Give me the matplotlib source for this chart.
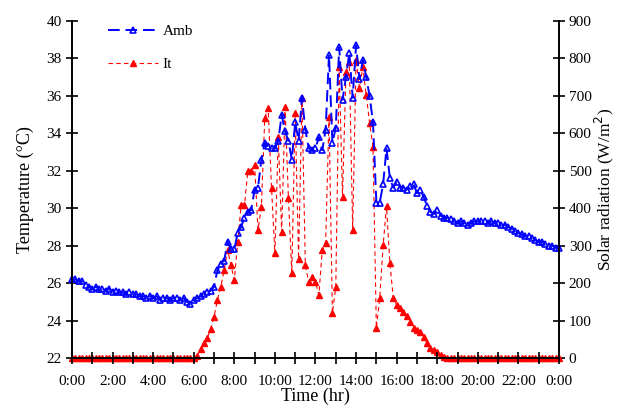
import matplotlib
matplotlib.use("Agg")
import matplotlib.pyplot as plt
import numpy as np

plt.rcParams["font.family"] = ["Liberation Serif", "DejaVu Serif"]

# 10-minute samples over one day (0:00 .. 24:00)
time_min = np.arange(0, 24 * 60 + 1, 10)

amb = [
    26.2, 26.2, 26.1, 26.1, 25.9, 25.8, 25.7, 25.8, 25.7, 25.7, 25.6, 25.7,
    25.5, 25.6, 25.5, 25.5, 25.4, 25.5, 25.4, 25.4, 25.3, 25.3, 25.2, 25.3,
    25.2, 25.3, 25.1, 25.2, 25.2, 25.1, 25.2, 25.2, 25.1, 25.2, 25.0, 24.9,
    25.1, 25.2, 25.3, 25.4, 25.5, 25.6, 25.8, 26.7, 27.0, 27.2, 28.2, 27.8,
    27.8, 28.7, 29.0, 29.5, 29.8, 29.9, 31.0, 31.1, 32.6, 33.5, 33.3, 33.2,
    33.2, 33.6, 35.0, 34.1, 33.6, 32.6, 34.6, 33.6, 35.9, 34.2, 33.2, 33.1,
    33.2, 33.8, 33.1, 34.2, 38.2, 33.5, 34.3, 38.6, 35.8, 37.0, 38.3, 35.9,
    38.7, 36.9, 37.9, 37.0, 36.0, 34.6, 30.3, 30.3, 31.3, 33.2, 31.6, 31.1,
    31.4, 31.1, 31.1, 31.0, 31.2, 31.3, 30.8, 31.0, 30.6, 30.1, 29.8, 29.7,
    29.9, 29.6, 29.5, 29.5, 29.4, 29.3, 29.2, 29.3, 29.2, 29.1, 29.2, 29.3,
    29.3, 29.3, 29.3, 29.2, 29.3, 29.2, 29.2, 29.1, 29.1, 29.0, 28.9, 28.8,
    28.7, 28.6, 28.5, 28.5, 28.4, 28.3, 28.2, 28.2, 28.1, 28.0, 28.0, 27.9,
    27.9,
]

solar = (
    [0] * 36
    + [0, 5, 25, 40, 53, 78, 110, 155, 190, 235, 288, 248,
       208, 310, 408, 408, 500, 500, 515, 342, 403, 641, 668, 454,
       280, 590, 337, 670, 427, 227, 654, 265, 694, 248, 203, 216,
       203, 168, 288, 308, 644, 120, 190, 777, 430, 764, 790, 342,
       796, 721, 777, 702, 628, 564, 80, 160, 302, 405, 254, 160,
       142, 134, 123, 112, 96, 80, 75, 69, 56, 40, 27, 21,
       15, 8, 3]
    + [0] * 34
)

hour_ticks = list(range(0, 25))
hour_labels = [f"{h % 24}:00" if h % 2 == 0 else "" for h in hour_ticks]

t = time_min / 60.0

fig = plt.figure(figsize=(6.18, 4.13), dpi=100)
ax = fig.add_axes([0.1165, 0.1332, 0.788, 0.8158])
ax2 = ax.twinx()
ax.set_zorder(ax2.get_zorder() + 1)
ax.patch.set_visible(False)

l1, = ax.plot(t, amb, color="blue", ls=(0, (6, 3)), lw=1.4, marker="^",
              ms=5, mfc="none", mec="blue", mew=1.2, label="Amb", clip_on=False)
l2, = ax2.plot(t, solar, color="red", ls=(0, (4, 3)), lw=0.8, marker="^",
               ms=5, mfc="red", mec="red", label="It", clip_on=False)

ax.set_xlim(0, 24)
ax.set_ylim(22, 40)
ax2.set_ylim(0, 900)
ax.set_yticks(np.arange(22, 41, 2))
ax2.set_yticks(np.arange(0, 901, 100))
ax.set_xticks(hour_ticks)
ax.set_xticklabels(hour_labels)

for a in (ax, ax2):
    a.spines["top"].set_visible(False)
    for s in a.spines.values():
        s.set_linewidth(1.2)
    a.tick_params(direction="inout", length=8, width=1.2, labelsize=11)
ax.tick_params(axis="x", pad=8)
ax2.tick_params(axis="y", pad=3)

ax.set_xlabel("Time (hr)", fontsize=13, labelpad=0)
ax.set_ylabel("Temperature (\u00b0C)", fontsize=13, labelpad=9)
ax2.set_ylabel("Solar radiation (W/m$^2$)", fontsize=12.5, labelpad=1)

ax.legend([l1, l2], ["Amb", "It"], loc="upper left", bbox_to_anchor=(0.045, 1.03),
          frameon=False, fontsize=11, handlelength=3.3, labelspacing=1.25,
          handletextpad=0.3)

fig.savefig("out.png", dpi=100)
